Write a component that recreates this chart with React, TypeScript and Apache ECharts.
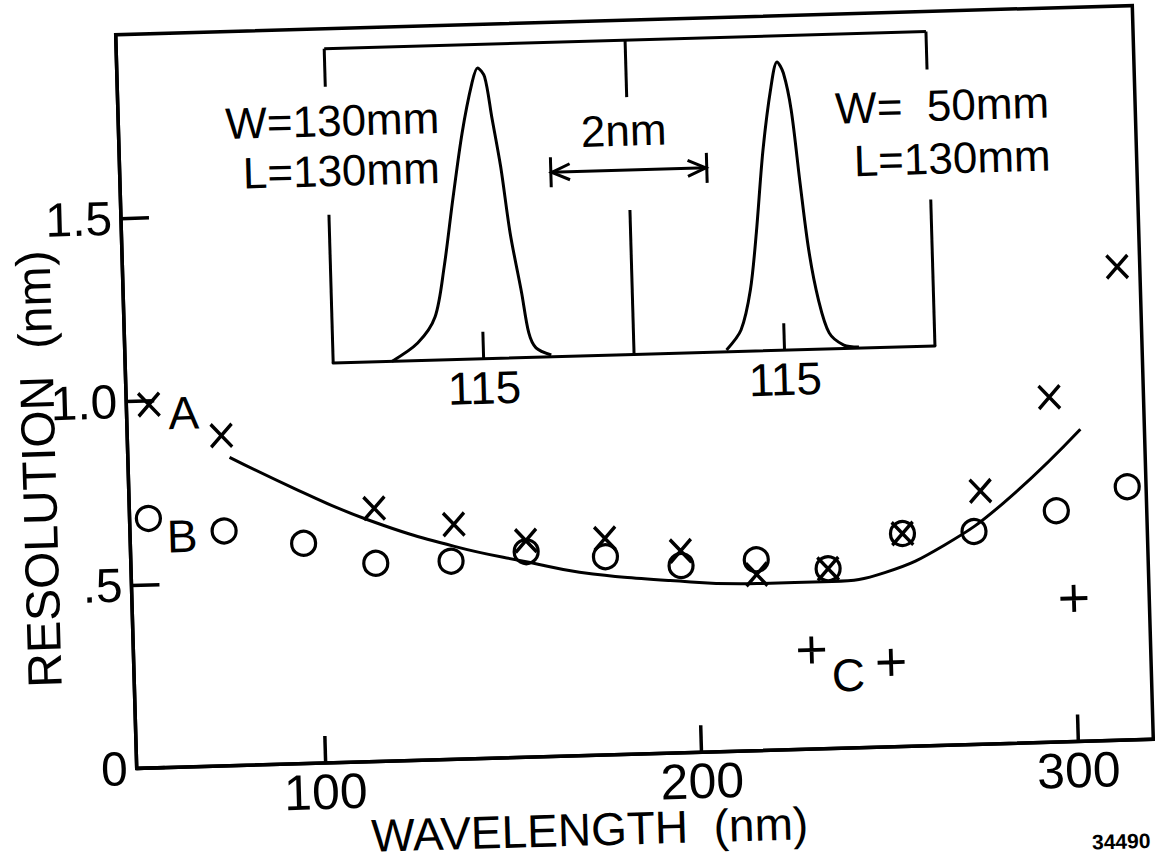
import React, { useEffect, useRef } from 'react';
import * as echarts from 'echarts';

// ---------- data ----------
const xTickValues = [100, 200, 300];
const yTickValues = [0, 0.5, 1.0, 1.5];
const yTickLabels = ['0', '.5', '1.0', '1.5'];
const insetTickValues = [115];
const insetTickLabels = ['115'];

// A: crosses
const seriesAWavelength = [56, 75, 115, 136, 155, 176, 196, 216, 235, 255, 276, 295, 314];
const seriesAResolution = [0.99, 0.9, 0.69, 0.64, 0.59, 0.59, 0.55, 0.48, 0.49, 0.58, 0.69, 0.94, 1.29];
// B: circles
const seriesBWavelength = [55, 75, 96, 115, 135, 155, 176, 196, 216, 235, 255, 274, 296, 315];
const seriesBResolution = [0.68, 0.64, 0.6, 0.54, 0.54, 0.56, 0.54, 0.51, 0.52, 0.49, 0.58, 0.58, 0.63, 0.69];
// C: plus signs
const seriesCWavelength = [230, 251, 300];
const seriesCResolution = [0.27, 0.23, 0.39];
// solid curve
const fitWavelength = [77, 94, 113, 136, 156, 169, 193, 216, 236, 250, 266, 282, 303];
const fitResolution = [0.84, 0.75, 0.66, 0.58, 0.53, 0.5, 0.47, 0.455, 0.455, 0.475, 0.545, 0.655, 0.85];
// inset: left peak (W=130mm)
const peakWideNm = [113.78, 114.13, 114.37, 114.51, 114.65, 114.8, 114.95, 115.03, 115.12, 115.2, 115.3, 115.4, 115.53, 115.61, 115.7, 115.9];
const peakWideInt = [0.0, 0.056, 0.137, 0.295, 0.508, 0.72, 0.878, 0.925, 0.896, 0.768, 0.608, 0.397, 0.206, 0.078, 0.03, 0.006];
// inset: right peak (W=50mm)
const peakNarrowNm = [114.23, 114.43, 114.57, 114.67, 114.79, 114.92, 115.01, 115.09, 115.18, 115.27, 115.36, 115.47, 115.6, 115.79, 115.99];
const peakNarrowInt = [0.006, 0.068, 0.195, 0.375, 0.638, 0.838, 0.917, 0.881, 0.763, 0.53, 0.316, 0.157, 0.051, 0.011, 0.003];

const zip = (xs: number[], ys: number[]) => xs.map((x, i) => [x, ys[i]]);

// ---------- layout ----------
const FONT = '"Liberation Sans", Arial, sans-serif';
const MAIN = { left: 126, top: 20, width: 1017, height: 734 };
const INSET = { left: 334, top: 40, width: 301, height: 314.5 };
const INSET_MID = INSET.left + INSET.width;
const INSET_RIGHT = INSET.left + 2 * INSET.width;
const INSET_BOTTOM = INSET.top + INSET.height;

const CROSS = 'path://M0,0L10,10M10,0L0,10';
const PLUS = 'path://M5,0L5,10M0,5L10,5';

const line = (x1: number, y1: number, x2: number, y2: number, w = 3) => ({
  type: 'line',
  shape: { x1, y1, x2, y2 },
  style: { stroke: '#000', lineWidth: w },
  silent: true,
});
const poly = (pts: number[][], w = 3) => ({
  type: 'polyline',
  shape: { points: pts },
  style: { stroke: '#000', lineWidth: w, fill: null },
  silent: true,
});
const text = (t: string, x: number, y: number, size: number, align = 'center', extra: any = {}) => ({
  type: 'text',
  x,
  y,
  silent: true,
  ...extra,
  style: {
    text: t,
    fontSize: size,
    fontFamily: FONT,
    fontWeight: extra.fontWeight || 'normal',
    fill: '#000',
    align,
    verticalAlign: 'middle',
    textAlign: align,
    textVerticalAlign: 'middle',
  },
});

export default function App() {
  const ref = useRef<HTMLDivElement>(null);
  useEffect(() => {
    const chart = echarts.init(ref.current!, null, { renderer: 'svg' });
    const axisLineStyle = { color: '#000', width: 3.5 };
    const insetX = (gridIndex: number) => ({
      type: 'value',
      gridIndex,
      min: 113,
      max: 117,
      axisLine: { show: true, lineStyle: { color: '#000', width: 3 } },
      axisTick: { show: true, inside: true, length: 27, customValues: insetTickValues, lineStyle: { color: '#000', width: 3 } },
      axisLabel: {
        show: true,
        customValues: insetTickValues,
        formatter: (v: number) => insetTickLabels[insetTickValues.indexOf(v)] ?? '',
        fontSize: 46,
        fontFamily: FONT,
        color: '#000',
        margin: 6,
      },
      splitLine: { show: false },
    });
    const insetY = (gridIndex: number) => ({ type: 'value', gridIndex, min: 0, max: 1, show: false });

    const arrowY = 170;
    const arrowL = 557;
    const arrowR = 713;
    const markStyle = { color: 'rgba(0,0,0,0)', borderColor: '#000', opacity: 1 };

    chart.setOption({
      animation: false,
      backgroundColor: '#fff',
      grid: [
        { ...MAIN, show: true, borderColor: '#000', borderWidth: 3.5, containLabel: false },
        { left: INSET.left, top: INSET.top, width: INSET.width, height: INSET.height },
        { left: INSET_MID, top: INSET.top, width: INSET.width, height: INSET.height },
      ],
      xAxis: [
        {
          type: 'value',
          gridIndex: 0,
          min: 50,
          max: 320,
          axisLine: { show: true, lineStyle: axisLineStyle },
          axisTick: { show: true, inside: true, length: 27, customValues: xTickValues, lineStyle: axisLineStyle },
          axisLabel: { show: true, customValues: xTickValues, fontSize: 50, fontFamily: FONT, color: '#000', margin: 4 },
          splitLine: { show: false },
        },
        insetX(1),
        insetX(2),
      ],
      yAxis: [
        {
          type: 'value',
          gridIndex: 0,
          min: 0,
          max: 2,
          axisLine: { show: true, lineStyle: axisLineStyle },
          axisTick: { show: true, inside: true, length: 28, customValues: yTickValues, lineStyle: axisLineStyle },
          axisLabel: {
            show: true,
            customValues: yTickValues,
            formatter: (v: number) => yTickLabels[yTickValues.indexOf(v)] ?? '',
            fontSize: 48,
            fontFamily: FONT,
            color: '#000',
            margin: 9,
          },
          splitLine: { show: false },
        },
        insetY(1),
        insetY(2),
      ],
      series: [
        {
          name: 'fit',
          type: 'line',
          xAxisIndex: 0,
          yAxisIndex: 0,
          data: zip(fitWavelength, fitResolution),
          smooth: 0.45,
          showSymbol: false,
          lineStyle: { color: '#000', width: 3, opacity: 1 },
        },
        {
          name: 'A',
          type: 'scatter',
          xAxisIndex: 0,
          yAxisIndex: 0,
          data: zip(seriesAWavelength, seriesAResolution),
          symbol: CROSS,
          symbolSize: [21, 23],
          itemStyle: { ...markStyle, borderWidth: 3.5 },
        },
        {
          name: 'B',
          type: 'scatter',
          xAxisIndex: 0,
          yAxisIndex: 0,
          data: zip(seriesBWavelength, seriesBResolution),
          symbol: 'circle',
          symbolSize: 24,
          itemStyle: { ...markStyle, borderWidth: 3.2 },
        },
        {
          name: 'C',
          type: 'scatter',
          xAxisIndex: 0,
          yAxisIndex: 0,
          data: zip(seriesCWavelength, seriesCResolution),
          symbol: PLUS,
          symbolSize: 27,
          itemStyle: { ...markStyle, borderWidth: 3.8 },
        },
        {
          name: 'W=130mm',
          type: 'line',
          xAxisIndex: 1,
          yAxisIndex: 1,
          data: zip(peakWideNm, peakWideInt),
          smooth: 0.3,
          showSymbol: false,
          lineStyle: { color: '#000', width: 3, opacity: 1 },
        },
        {
          name: 'W=50mm',
          type: 'line',
          xAxisIndex: 2,
          yAxisIndex: 2,
          data: zip(peakNarrowNm, peakNarrowInt),
          smooth: 0.3,
          showSymbol: false,
          lineStyle: { color: '#000', width: 3, opacity: 1 },
        },
      ],
      graphic: [
        // inset frame (bottom edge is the inset x axes)
        line(INSET.left, INSET.top, INSET_RIGHT, INSET.top),
        line(INSET.left, INSET.top, INSET.left, 78),
        line(INSET.left, 206, INSET.left, INSET_BOTTOM),
        line(INSET_MID, INSET.top, INSET_MID, 97),
        line(INSET_MID, 210, INSET_MID, INSET_BOTTOM),
        line(INSET_RIGHT, INSET.top, INSET_RIGHT, 78),
        line(INSET_RIGHT, 208, INSET_RIGHT, INSET_BOTTOM),
        // 2 nm scale arrow
        line(arrowL, arrowY, arrowR, arrowY),
        line(arrowL, arrowY - 15, arrowL, arrowY + 15),
        line(arrowR, arrowY - 15, arrowR, arrowY + 15),
        poly([[arrowL + 19, arrowY - 8], [arrowL + 1, arrowY], [arrowL + 19, arrowY + 8]]),
        poly([[arrowR - 19, arrowY - 8], [arrowR - 1, arrowY], [arrowR - 19, arrowY + 8]]),
        text('2nm', 631, 130, 44),
        text('W=130mm', 447, 112, 44, 'right'),
        text('L=130mm', 446, 162, 44, 'right'),
        text('W=  50mm', 1057, 114, 44, 'right'),
        text('L=130mm', 1057, 167, 44, 'right'),
        // series labels
        text('A', 183, 400, 46),
        text('B', 178, 523, 46),
        text('C', 840, 681, 46),
        // axis titles
        text('WAVELENGTH  (nm)', 577, 828, 46),
        text('RESOLUTION  (nm)', 37, 452, 48, 'center', { rotation: Math.PI / 2 }),
        text('34490', 1108, 855, 21, 'center', { fontWeight: 'bold' }),
      ],
    });
    return () => chart.dispose();
  }, []);

  return (
    <div style={{ position: 'fixed', left: 0, top: 0, width: '100vw', height: '100vh', overflow: 'hidden', background: '#fff' }}>
      <div
        ref={ref}
        style={{
          position: 'absolute',
          left: 0,
          top: 0,
          width: 1200,
          height: 900,
          transform: 'rotate(-1.64deg)',
          transformOrigin: '634.5px 387px',
        }}
      />
    </div>
  );
}
